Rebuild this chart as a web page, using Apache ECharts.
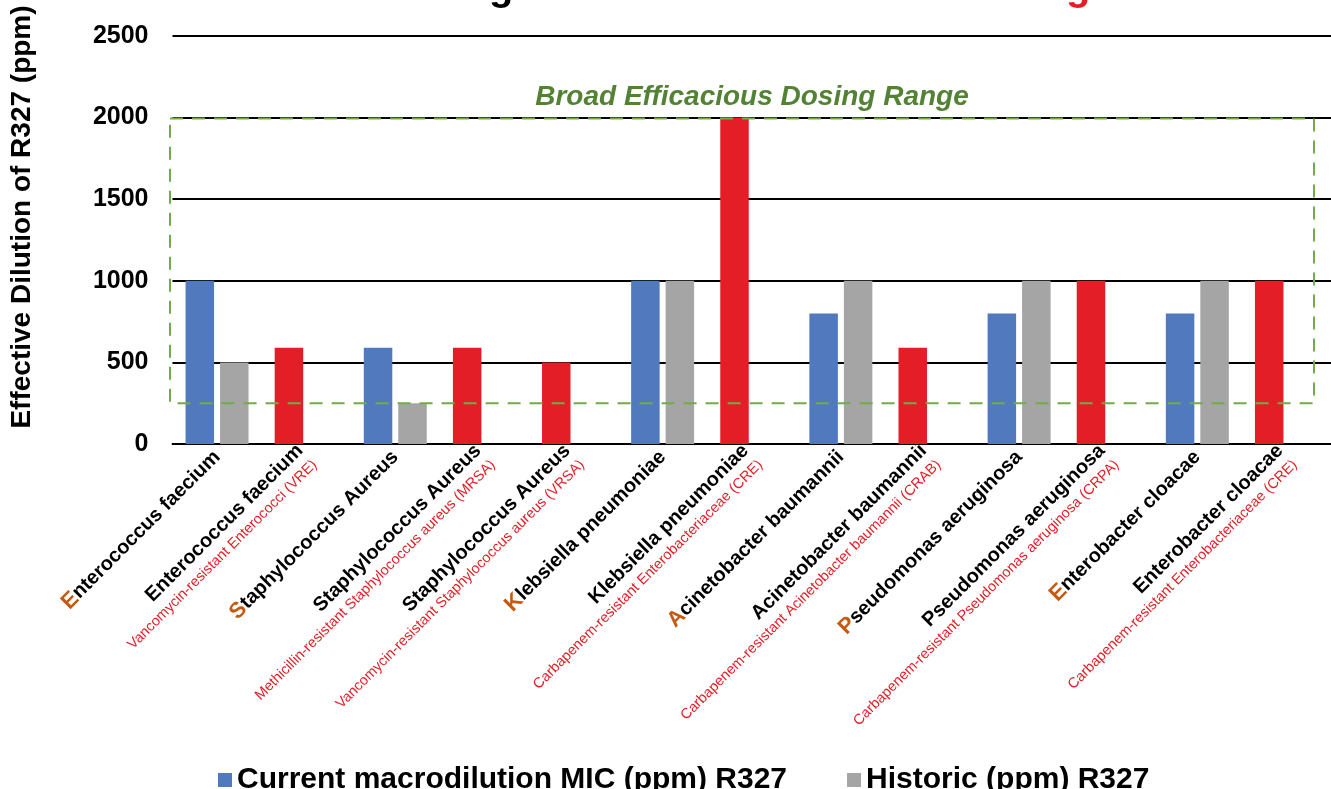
<!DOCTYPE html>
<html>
<head>
<meta charset="utf-8">
<script src="https://cdn.jsdelivr.net/npm/echarts@6/dist/echarts.min.js"></script>
<style>
  html, body { margin: 0; padding: 0; background: #fff; }
  #chart { width: 1331px; height: 789px; }
</style>
</head>
<body>
<div id="chart"></div>
<script>
// ---------- data ----------
const species = [
  'Enterococcus faecium', 'Enterococcus faecium',
  'Staphylococcus Aureus', 'Staphylococcus Aureus', 'Staphylococcus Aureus',
  'Klebsiella pneumoniae', 'Klebsiella pneumoniae',
  'Acinetobacter baumannii', 'Acinetobacter baumannii',
  'Pseudomonas aeruginosa', 'Pseudomonas aeruginosa',
  'Enterobacter cloacae', 'Enterobacter cloacae'
];
// first letter highlighted (ESKAPE)
const eskape = [true, false, true, false, false, true, false, true, false, true, false, true, false];
const resistantNote = [
  '', 'Vancomycin-resistant Enterococci (VRE)',
  '', 'Methicillin-resistant Staphylococcus aureus (MRSA)', 'Vancomycin-resistant Staphylococcus aureus (VRSA)',
  '', 'Carbapenem-resistant Enterobacteriaceae (CRE)',
  '', 'Carbapenem-resistant Acinetobacter baumannii (CRAB)',
  '', 'Carbapenem-resistant Pseudomonas aeruginosa (CRPA)',
  '', 'Carbapenem-resistant Enterobacteriaceae (CRE)'
];
const currentMic = [1000, 590, 590, 590, 500, 1000, 2000, 800, 590, 800, 1000, 800, 1000];
const historic = [500, null, 250, null, null, 1000, null, 1000, null, 1000, null, 1000, null];
const yTicks = [0, 500, 1000, 1500, 2000, 2500];
const dosingRange = [250, 2000];
const seriesNames = ['Current macrodilution MIC (ppm) R327', 'Historic (ppm) R327'];

const BLUE = '#5079BE', GRAY = '#A5A5A5', RED = '#E41E26', ORANGE = '#C55A11', GREEN = '#70AD47';
const FONT = "'Liberation Sans', Arial, sans-serif";

const categories = species.map((s, i) => s + '|' + resistantNote[i]);

function labelFmt(value, idx) {
  const s = species[idx];
  let line = eskape[idx] ? '{o|' + s[0] + '}{b|' + s.slice(1) + '}' : '{b|' + s + '}';
  if (resistantNote[idx]) line += '\n{r|' + resistantNote[idx] + '}';
  return line;
}

const chart = echarts.init(document.getElementById('chart'));
chart.setOption({
  backgroundColor: '#fff',
  animation: false,
  textStyle: { fontFamily: FONT },
  grid: { left: 172.5, top: 36, width: 1166, height: 408, containLabel: false },
  legend: {
    left: 213, top: 760,
    itemWidth: 14, itemHeight: 14, itemGap: 60,
    icon: 'rect',
    data: seriesNames,
    textStyle: { fontFamily: FONT, fontWeight: 'bold', fontSize: 30, color: '#000' }
  },
  xAxis: {
    type: 'category',
    data: categories,
    axisLine: { show: true, lineStyle: { color: '#000', width: 2 } },
    axisTick: { show: false },
    axisLabel: {
      interval: 0, rotate: 45, margin: 10,
      formatter: labelFmt,
      rich: {
        o: { color: ORANGE, fontWeight: 'bold', fontSize: 22, fontFamily: FONT, lineHeight: 24 },
        b: { color: '#000', fontWeight: 'bold', fontSize: 20, fontFamily: FONT, lineHeight: 24 },
        r: { color: RED, fontSize: 14.5, fontFamily: FONT, lineHeight: 18 }
      }
    }
  },
  yAxis: {
    type: 'value',
    min: yTicks[0], max: yTicks[yTicks.length - 1], interval: 500,
    axisLine: { show: false },
    axisTick: { show: false },
    axisLabel: { color: '#000', fontWeight: 'bold', fontSize: 25, margin: 24, fontFamily: FONT, formatter: v => String(v) },
    splitLine: { lineStyle: { color: '#000', width: 2 } }
  },
  series: [
    {
      name: seriesNames[0],
      type: 'bar',
      barWidth: 28.5,
      barGap: '21%',
      itemStyle: { color: BLUE },
      data: currentMic.map((v, i) => ({ value: v, itemStyle: { color: resistantNote[i] ? RED : BLUE } }))
    },
    {
      name: seriesNames[1],
      type: 'bar',
      barWidth: 28.5,
      itemStyle: { color: GRAY },
      data: historic
    }
  ]
});

// annotations: dosing range box, its caption, axis name, title
const yTop = chart.convertToPixel({ yAxisIndex: 0 }, dosingRange[1]);
const yBot = chart.convertToPixel({ yAxisIndex: 0 }, dosingRange[0]);
chart.setOption({
  graphic: [
    {
      type: 'rect', z: 10, silent: true,
      shape: { x: 170, y: yTop + 1, width: 1314 - 170, height: yBot - yTop - 1 },
      style: { fill: 'none', stroke: GREEN, lineWidth: 2, lineDash: [13, 9] }
    },
    {
      type: 'text', z: 10, x: 752, y: 97,
      style: {
        text: 'Broad Efficacious Dosing Range', fill: '#548235',
        font: "italic bold 28px 'Liberation Sans', Arial", align: 'center', verticalAlign: 'middle'
      }
    },
    {
      type: 'text', x: 22, y: 217, rotation: Math.PI / 2,
      style: {
        text: 'Effective Dilution of R327 (ppm)', fill: '#000',
        font: "bold 28px 'Liberation Sans', Arial", align: 'center', verticalAlign: 'middle'
      }
    },
    {
      type: 'text', x: 225, y: 9,
      style: { text: 'ESKAPE', fill: ORANGE, font: "bold 40px 'Liberation Sans', Arial", verticalAlign: 'bottom' }
    },
    {
      type: 'text', x: 378, y: 9,
      style: { text: 'Pathogens Standard and', fill: '#000', font: "bold 40px 'Liberation Sans', Arial", verticalAlign: 'bottom' }
    },
    {
      type: 'text', x: 997, y: 9,
      style: { text: 'Drug Resistant', fill: RED, font: "bold 40px 'Liberation Sans', Arial", verticalAlign: 'bottom' }
    }
  ]
});
</script>
</body>
</html>
